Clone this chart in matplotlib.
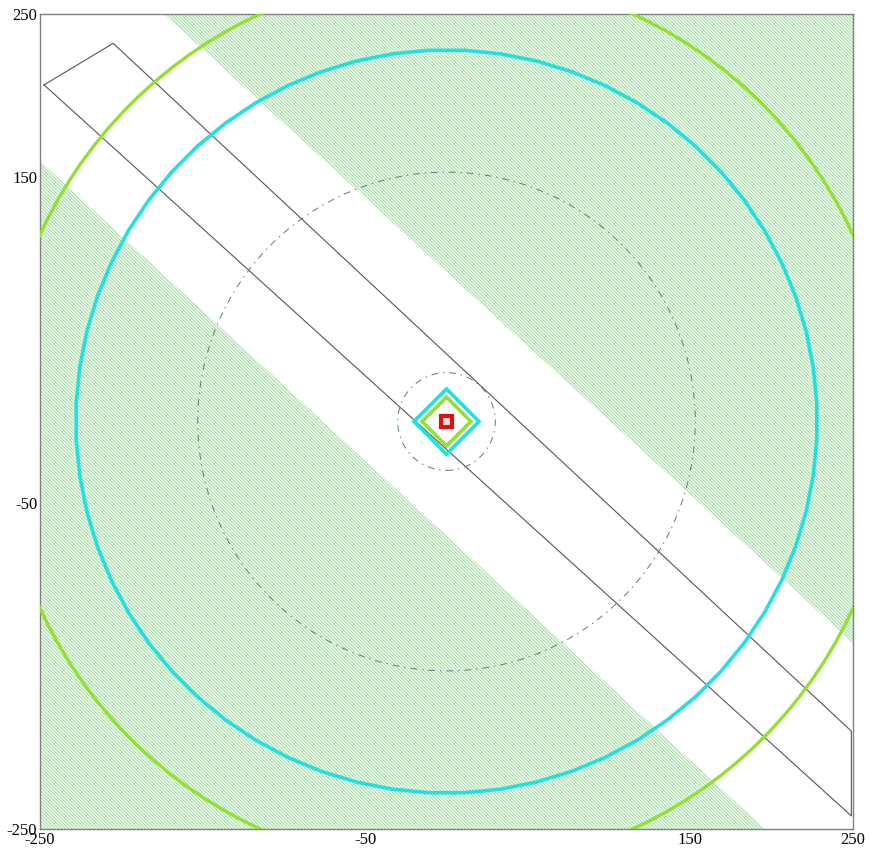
import numpy as np
import matplotlib.pyplot as plt
from matplotlib.patches import Polygon, Circle, RegularPolygon, Rectangle

# road corridor edges (start point, end point) -- hatch is left off between them
band_top_x = [-174, 250]
band_top_y = [250, -136]
band_bot_x = [-250, 196]
band_bot_y = [160, -250]

# outline of the strip
outline_x = [-247.5, -205, 249, 249, -247.5]
outline_y = [206.5, 232, -190, -242, 206.5]

# contour rings around the source at (0, 0)
src_x, src_y = 0, 0
ring_r = [275, 228]
ring_clr = ['#93e030', '#22e0e0']
dash_r = [153, 30]
diamond_r = [20, 15]
diamond_clr = ['#22e0e0', '#93e030']
src_half = 3.5

tick_vals = [-250, -50, 150, 250]

fs = 12
plt.rcParams['hatch.linewidth'] = 0.6

fig = plt.figure(figsize=(8.71, 8.50), dpi=100)
ax = fig.add_axes([40/871, 21/850, 813/871, 815/850])
ax.set_xlim(-250, 250)
ax.set_ylim(-250, 250)

# hatched ground outside the corridor
up = [(band_top_x[0], band_top_y[0]), (250, 250), (band_top_x[1], band_top_y[1])]
lo = [(band_bot_x[0], band_bot_y[0]), (-250, -250), (band_bot_x[1], band_bot_y[1])]
for pts in [up, lo]:
    ax.add_patch(Polygon(pts, closed=True, facecolor='#f2faf2', edgecolor='#98da98',
                         linewidth=0, hatch='\\' * 10, zorder=1))

ax.plot(outline_x, outline_y, color='#555555', linewidth=0.8, zorder=2)

# big rings
ax.add_patch(Circle((src_x, src_y), ring_r[0], fill=False, edgecolor=ring_clr[0],
                    linewidth=2.4, zorder=3))
ax.add_patch(RegularPolygon((src_x, src_y), numVertices=64, radius=ring_r[1],
                            orientation=np.pi/64, fill=False,
                            edgecolor=ring_clr[1], linewidth=2.6, zorder=3))
for r in dash_r:
    ax.add_patch(Circle((src_x, src_y), r, fill=False, edgecolor='#4d7d8a',
                        linewidth=0.7, linestyle=(0, (7, 5, 1.5, 5)), zorder=3))

# inner diamonds
for r, c in zip(diamond_r, diamond_clr):
    ax.add_patch(RegularPolygon((src_x, src_y), numVertices=4, radius=r,
                                fill=False, edgecolor=c, linewidth=2.6, zorder=4))

# source marker
ax.add_patch(Rectangle((src_x - src_half, src_y - src_half), 2*src_half, 2*src_half,
                       facecolor='#fbe0e0', edgecolor='#dd1111', linewidth=3.0, zorder=5))

ax.set_xticks(tick_vals)
ax.set_yticks(tick_vals)
ax.set_xticklabels([str(v) for v in tick_vals], family='Liberation Serif', fontsize=fs)
ax.set_yticklabels([str(v) for v in tick_vals], family='Liberation Serif', fontsize=fs)
ax.tick_params(axis='both', length=0, pad=2)
for s in ax.spines.values():
    s.set_color('#808080')
    s.set_linewidth(1.0)

plt.savefig('out.png', dpi=100)
plt.close()
